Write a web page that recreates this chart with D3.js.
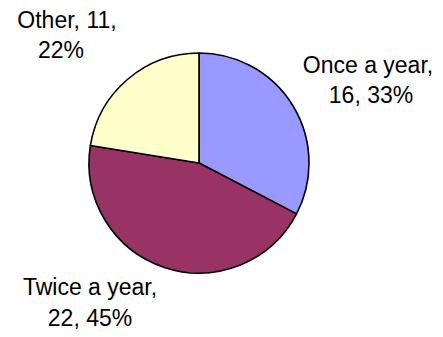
<!DOCTYPE html>
<html>
<head>
<meta charset="utf-8">
<script src="https://cdn.jsdelivr.net/npm/d3@7"></script>
<style>
  html, body { margin: 0; padding: 0; background: #fff; }
  svg { display: block; }
  text { font-family: "Liberation Sans", Arial, sans-serif; font-size: 23px; fill: #000; }
</style>
</head>
<body>
<svg id="chart" width="443" height="337"></svg>
<script>
// Survey answers: how often
const categories = ["Once a year", "Twice a year", "Other"];
const counts = [16, 22, 11];
const colors = ["#9999FF", "#993366", "#FFFFCC"];
// label anchor points (line centres, baselines) per slice
const labelX = [[368, 371], [90, 90], [67, 61]];
const labelY = [[73, 103], [295, 326], [28, 58]];

const svg = d3.select("#chart");
const width = 443, height = 337;
const cx = 199, cy = 163, radius = 110;

const total = d3.sum(counts);
const data = categories.map((c, i) => ({ name: c, value: counts[i], i }));

const pie = d3.pie().value(d => d.value).sort(null).startAngle(0).endAngle(2 * Math.PI);
const arc = d3.arc().innerRadius(0).outerRadius(radius);

const g = svg.append("g").attr("transform", `translate(${cx},${cy})`);

g.selectAll("path")
  .data(pie(data))
  .join("path")
  .attr("d", arc)
  .attr("fill", d => colors[d.data.i])
  .attr("stroke", "#000")
  .attr("stroke-width", 1.6)
  .attr("stroke-linejoin", "round");

// Two-line data labels: "Name, value," / "pct%"
const fmtPct = v => Math.round(v / total * 100) + "%";
data.forEach(d => {
  const lines = d.name === "Other"
    ? [`${d.name}, ${d.value},`, fmtPct(d.value)]
    : [`${d.name},`, `${d.value}, ${fmtPct(d.value)}`];
  lines.forEach((t, k) => {
    svg.append("text")
      .attr("x", labelX[d.i][k])
      .attr("y", labelY[d.i][k])
      .attr("text-anchor", "middle")
      .text(t);
  });
});
</script>
</body>
</html>
